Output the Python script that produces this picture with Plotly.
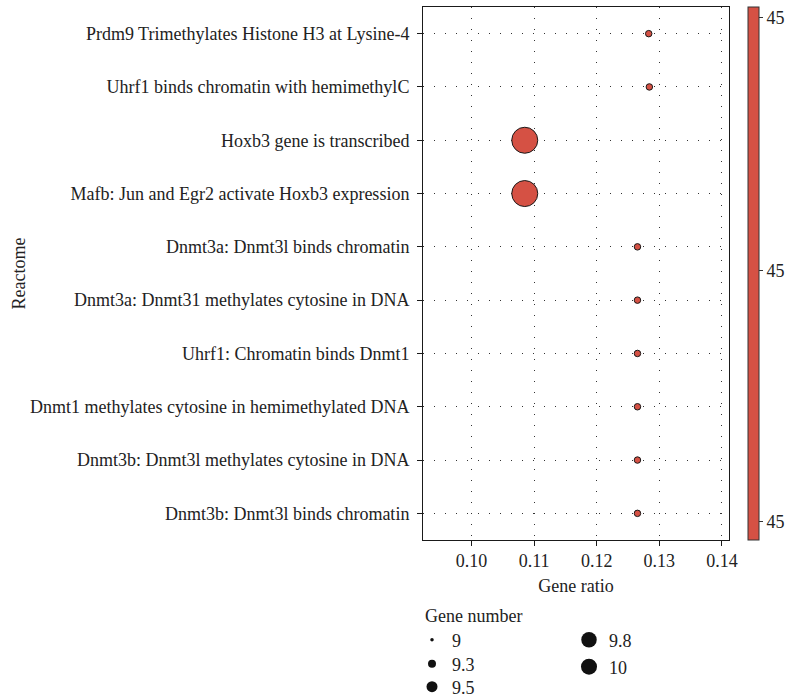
import plotly.graph_objects as go

# ---------------- data ----------------
pathways = [
    "Prdm9 Trimethylates Histone H3 at Lysine-4",
    "Uhrf1 binds chromatin with hemimethylC",
    "Hoxb3 gene is transcribed",
    "Mafb: Jun and Egr2 activate Hoxb3 expression",
    "Dnmt3a: Dnmt3l binds chromatin",
    "Dnmt3a: Dnmt31 methylates cytosine in DNA",
    "Uhrf1: Chromatin binds Dnmt1",
    "Dnmt1 methylates cytosine in hemimethylated DNA",
    "Dnmt3b: Dnmt3l methylates cytosine in DNA",
    "Dnmt3b: Dnmt3l binds chromatin",
]
gene_ratio = [0.1283, 0.1284, 0.1085, 0.1085, 0.1265, 0.1265, 0.1265, 0.1265, 0.1265, 0.1265]
gene_number = [9, 9, 10, 10, 9, 9, 9, 9, 9, 9]
color_value = [45, 45, 45, 45, 45, 45, 45, 45, 45, 45]

x_ticks = [0.10, 0.11, 0.12, 0.13, 0.14]
legend_breaks = [9, 9.3, 9.5, 9.8, 10]
legend_labels = ["9", "9.3", "9.5", "9.8", "10"]
colorbar_ticks = [45.0096, 45.0001, 44.9907]

# ---------------- style ----------------
RED = "#D55144"
FONT = "Liberation Serif, Times New Roman, DejaVu Serif, serif"
TXT = "#222222"
FS = 18

# plot area in pixels
PL, PR, PT, PB = 423, 729, 7, 540
PW, PH = PR - PL, PB - PT

def px_x(x):
    return (x - PL) / PW

def px_y(y):
    return (PB - y) / PH

def point_size(n):
    return 6.5 + (n - 9) * 19.5

def legend_size(n):
    return 3.5 + (n - 9) * 15

# legend entry anchor positions (symbol centre) in pixels
legend_pos = [(432, 640), (432, 664), (432, 687), (589, 640), (589, 667)]

fig = go.Figure()

fig.add_trace(go.Scatter(
    x=gene_ratio, y=pathways, mode="markers", showlegend=False,
    marker=dict(
        size=[point_size(n) for n in gene_number],
        color=color_value, colorscale=[[0, RED], [1, RED]],
        cmin=44.99, cmax=45.01,
        line=dict(color="#1a1a1a", width=1),
        opacity=1,
        colorbar=dict(
            thickness=11, len=1.0, lenmode="fraction", y=0.5, yanchor="middle",
            x=px_x(748), xanchor="left", outlinewidth=1, outlinecolor="#333333",
            xpad=0, ypad=0,
            tickmode="array", tickvals=colorbar_ticks, tickformat=".0f",
            ticks="outside", ticklen=4, tickcolor="#333333",
            tickfont=dict(family=FONT, size=FS, color=TXT),
        ),
    ),
))

legend_font = dict(family=FONT, size=FS, color=TXT)
legend_layouts = {}
for i, (b, lab) in enumerate(zip(legend_breaks, legend_labels)):
    key = "legend" if i == 0 else f"legend{i + 1}"
    fig.add_trace(go.Scatter(
        x=[None], y=[None], mode="markers", name=lab,
        marker=dict(size=legend_size(b), color="#111111"),
        legend=key,
    ))
    sx, sy = legend_pos[i]
    legend_layouts[key] = dict(
        x=px_x(sx - 20), y=px_y(sy), xanchor="left", yanchor="middle",
        font=legend_font, itemsizing="trace", bgcolor="rgba(0,0,0,0)",
    )

axis_common = dict(
    showline=True, linecolor="#1a1a1a", linewidth=1, mirror=True,
    ticks="outside", ticklen=5, tickwidth=1, tickcolor="#1a1a1a",
    showgrid=True, gridcolor="#333333", gridwidth=1, griddash="1px,10px",
    zeroline=False, tickfont=dict(family=FONT, size=FS, color=TXT),
    automargin=False,
)

fig.update_xaxes(
    **axis_common, range=[0.09225, 0.14112],
    tickmode="array", tickvals=x_ticks, ticktext=[f"{v:.2f}" for v in x_ticks],
    ticklabelstandoff=-1,
    title=dict(text="Gene ratio", font=dict(family=FONT, size=FS, color=TXT), standoff=9),
)
fig.update_yaxes(
    **axis_common, type="category", categoryorder="array",
    categoryarray=pathways[::-1], range=[-0.5, len(pathways) - 0.5],
    ticklabelstandoff=4,
)

fig.add_annotation(
    text="Reactome", textangle=-90, xref="paper", yref="paper",
    x=px_x(18), y=0.5, xanchor="center", yanchor="middle",
    showarrow=False, font=dict(family=FONT, size=FS, color=TXT),
)
fig.add_annotation(
    text="Gene number", xref="paper", yref="paper",
    x=0, y=px_y(616), xanchor="left", yanchor="middle",
    showarrow=False, font=dict(family=FONT, size=FS, color=TXT),
)

fig.update_layout(
    width=791, height=699,
    margin=dict(l=PL, r=791 - PR, t=PT, b=699 - PB, autoexpand=False),
    paper_bgcolor="white", plot_bgcolor="white",
    **legend_layouts,
)

fig.write_html(
    "out.html",
    config={"displayModeBar": False},
    post_script="document.body.style.margin='0px';document.body.style.overflow='hidden';",
)
